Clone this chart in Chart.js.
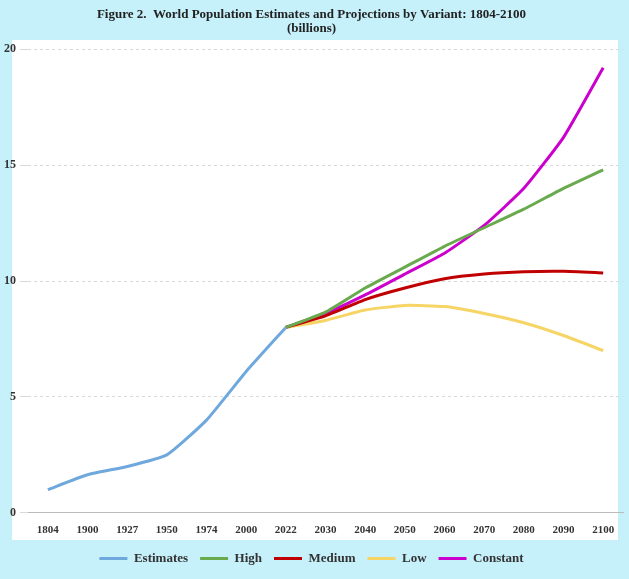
<!DOCTYPE html>
<html>
<head>
<meta charset="utf-8">
<script src="https://cdn.jsdelivr.net/npm/chart.js@4/dist/chart.umd.min.js"></script>
<style>
  html, body { margin: 0; padding: 0; background: #c6f1fb; }
  #wrap { width: 629px; height: 579px; }
</style>
</head>
<body>
<div id="wrap"><canvas id="c"></canvas></div>
<script>
const years = ['1804','1900','1927','1950','1974','2000','2022','2030','2040','2050','2060','2070','2080','2090','2100'];
const estimates = [1.0, 1.64, 2.0, 2.5, 4.0, 6.1, 8.0, null, null, null, null, null, null, null, null];
const high     = [null, null, null, null, null, null, 8.0, 8.66, 9.7, 10.6, 11.5, 12.3, 13.1, 14.0, 14.8];
const medium   = [null, null, null, null, null, null, 8.0, 8.5, 9.2, 9.7, 10.1, 10.3, 10.4, 10.42, 10.35];
const low      = [null, null, null, null, null, null, 8.0, 8.3, 8.75, 8.95, 8.9, 8.6, 8.2, 7.65, 7.0];
const constant = [null, null, null, null, null, null, 8.0, 8.6, 9.4, 10.3, 11.2, 12.4, 14.0, 16.2, 19.2];

// white panel behind the plot
const panel = {
  id: 'panel',
  beforeDraw(chart) {
    const ctx = chart.ctx;
    ctx.save();
    ctx.fillStyle = '#ffffff';
    ctx.fillRect(12, 40, 606, 500);
    ctx.restore();
  }
};

const serif = 'Liberation Serif, Times New Roman, serif';
function ds(label, data, color) {
  return { label, data, borderColor: color, backgroundColor: color, borderWidth: 3, pointRadius: 0, tension: 0.15, spanGaps: false };
}

new Chart(document.getElementById('c'), {
  type: 'line',
  data: {
    labels: years,
    datasets: [
      ds('Estimates', estimates, '#6fa8dc'),
      ds('High', high, '#6aaa4f'),
      ds('Medium', medium, '#c00000'),
      ds('Low', low, '#f6d465'),
      ds('Constant', constant, '#cc00cc')
    ]
  },
  options: {
    responsive: true,
    maintainAspectRatio: false,
    animation: false,
    layout: { padding: { left: 0, right: 6, top: 0, bottom: 4 } },
    plugins: {
      title: {
        display: true,
        text: ['Figure 2.  World Population Estimates and Projections by Variant: 1804-2100', '(billions)'],
        color: '#222',
        font: { family: serif, size: 13, weight: 'bold', lineHeight: 1.05 },
        padding: { top: 8, bottom: 14 }
      },
      legend: {
        position: 'bottom',
        labels: {
          usePointStyle: true,
          pointStyle: 'line',
          pointStyleWidth: 28,
          color: '#333',
          font: { family: serif, size: 13, weight: 'bold' },
          padding: 12
        }
      }
    },
    scales: {
      x: {
        offset: true,
        grid: { display: false },
        border: { color: '#bbb' },
        ticks: { color: '#333', font: { family: serif, size: 11, weight: 'bold' }, maxRotation: 0, autoSkip: false }
      },
      y: {
        min: 0, max: 20,
        ticks: { stepSize: 5, color: '#333', font: { family: serif, size: 12, weight: 'bold' }, padding: 4 },
        grid: { color: '#d9d9d9' },
        border: { display: false, dash: [3, 3] }
      }
    }
  },
  plugins: [panel]
});
</script>
</body>
</html>
